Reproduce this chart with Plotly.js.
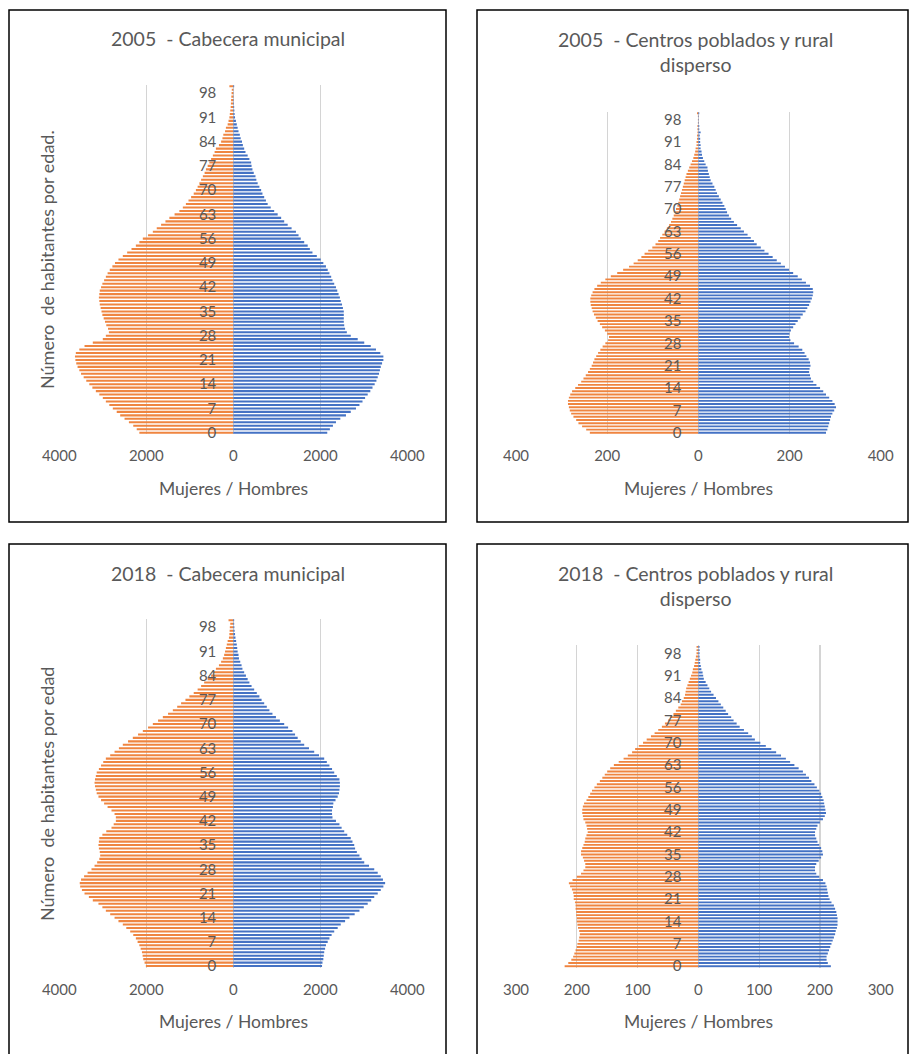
<!DOCTYPE html>
<html>
<head>
<meta charset="utf-8">
<script src="https://cdn.plot.ly/plotly-3.0.1.min.js"></script>
<style>
html,body{margin:0;padding:0;background:#fff;}
#chart{width:909px;height:1054px;}
</style>
</head>
<body>
<div id="chart"></div>
<script>
// ---------- DATA ----------
const ages = Array.from({length: 101}, (_, i) => i); // 0..100 age categories
const ageTickVals = [0, 7, 14, 21, 28, 35, 42, 49, 56, 63, 70, 77, 84, 91, 98];

const titles = [
  "2005\u00A0 - Cabecera municipal",
  "2005\u00A0 - Centros poblados y rural<br>disperso",
  "2018\u00A0 - Cabecera municipal",
  "2018\u00A0 - Centros poblados y rural<br>disperso"
];
const xAxisTitle = "Mujeres / Hombres";
const yTitle2005 = "Número\u00A0 de habitantes por edad.";
const yTitle2018 = "Número\u00A0 de habitantes por edad";

// 2005 - Cabecera municipal
const women2005Cab = [2160,2220,2300,2400,2500,2600,2680,2770,2850,2930,
  3000,3080,3160,3240,3310,3380,3440,3500,3540,3580,
  3610,3630,3640,3620,3540,3420,3230,3000,2930,2860,
  2880,2920,2950,2980,3010,3030,3050,3070,3080,3090,
  3080,3070,3040,3010,2970,2930,2890,2840,2780,2720,
  2640,2540,2440,2340,2240,2160,2080,1960,1850,1760,
  1660,1560,1470,1350,1240,1160,1090,1030,970,910,
  860,820,780,740,700,660,630,590,550,510,
  470,430,400,330,280,250,230,190,170,130,
  110,90,80,70,60,55,50,45,40,35,90];
const men2005Cab = [2160,2220,2290,2360,2460,2590,2700,2820,2900,2970,
  3030,3090,3150,3200,3250,3290,3320,3350,3370,3390,
  3420,3450,3450,3380,3280,3160,3010,2860,2700,2610,
  2570,2550,2540,2540,2540,2540,2520,2500,2470,2450,
  2420,2390,2360,2320,2280,2250,2210,2170,2130,2070,
  2010,1920,1820,1760,1710,1630,1550,1500,1440,1340,
  1250,1170,1100,1020,940,860,790,750,710,670,
  640,600,560,530,510,470,440,420,410,370,
  330,280,250,220,200,170,150,120,100,80,
  60,40,30,25,20,15,10,8,6,5,20];

// 2005 - Centros poblados y rural disperso
const women2005Rur = [238,246,255,263,268,274,279,282,284,286,
  286,284,281,277,270,264,257,252,247,242,
  238,234,231,228,224,220,215,210,204,198,
  196,200,205,211,216,221,225,229,232,234,
  236,237,237,235,232,228,222,214,204,192,
  178,165,152,142,133,125,118,110,101,94,
  88,84,79,74,69,64,60,57,54,51,
  49,46,44,42,40,38,36,34,32,30,
  28,26,23,20,17,14,11,9,7,6,
  4,4,3,3,2,2,2,1,1,1,3];
const men2005Rur = [280,283,285,287,289,291,294,298,302,299,
  294,287,280,274,267,259,252,247,245,243,
  244,246,245,242,237,233,228,220,210,202,
  199,200,203,208,213,218,224,229,235,239,
  243,246,249,251,252,251,245,236,227,218,
  208,199,190,181,172,163,154,145,137,128,
  122,115,108,100,93,85,78,72,67,63,
  60,57,53,49,45,41,38,35,31,27,
  25,23,21,20,16,13,10,8,7,5,
  5,4,4,3,5,2,2,1,1,1,2];

// 2018 - Cabecera municipal
const women2018Cab = [2010,2040,2070,2085,2100,2130,2160,2200,2240,2300,
  2370,2460,2540,2640,2730,2830,2930,3010,3100,3230,
  3320,3420,3480,3520,3530,3500,3430,3350,3260,3190,
  3130,3080,3060,3070,3090,3100,3090,3080,3010,2920,
  2800,2750,2700,2700,2730,2800,2890,2970,3040,3100,
  3140,3160,3180,3190,3180,3160,3140,3090,3040,2990,
  2930,2830,2730,2630,2540,2420,2310,2190,2080,1960,
  1850,1730,1620,1500,1390,1290,1200,1100,1010,910,
  820,740,670,590,510,450,400,330,280,240,
  210,190,170,150,130,100,90,85,80,70,110];
const men2018Cab = [2040,2050,2070,2080,2090,2110,2130,2170,2210,2260,
  2320,2400,2470,2570,2670,2790,2900,3000,3090,3170,
  3240,3320,3390,3450,3490,3440,3390,3320,3240,3120,
  3010,2950,2900,2840,2800,2780,2740,2700,2620,2550,
  2490,2440,2360,2280,2270,2270,2290,2300,2350,2400,
  2430,2440,2450,2450,2440,2380,2320,2270,2210,2150,
  2090,1970,1860,1740,1630,1550,1480,1420,1360,1260,
  1170,1070,980,900,830,770,710,650,600,540,
  480,420,370,330,290,250,210,190,160,130,
  120,100,90,80,65,50,40,30,25,20,20];

// 2018 - Centros poblados y rural disperso
const women2018Rur = [220,214,209,206,204,202,200,199,197,196,
  195,196,198,199,200,200,201,201,202,202,
  203,205,205,206,208,211,213,207,200,193,
  189,186,186,188,190,193,193,191,189,187,
  186,184,182,183,184,186,189,190,191,191,
  190,188,184,181,178,175,171,167,162,158,
  154,150,145,139,131,123,116,109,104,98,
  91,85,78,72,66,60,55,50,46,41,
  37,33,29,27,24,22,21,20,18,16,
  14,12,10,9,7,6,5,4,3,3,3];
const men2018Rur = [218,213,211,211,213,215,217,219,221,223,
  225,226,228,229,229,229,228,227,225,223,
  219,216,214,213,212,211,209,205,199,194,
  192,192,194,198,202,205,204,202,199,196,
  194,192,192,194,196,200,205,208,210,209,
  208,207,206,204,202,199,195,191,186,182,
  177,172,165,158,151,144,136,128,120,111,
  102,93,88,82,75,68,63,58,54,49,
  45,41,37,33,29,25,21,18,15,12,
  9,8,7,5,4,3,3,2,2,2,2];

// x-axis ticks per panel
const xTicks2005Cab = [-4000, -2000, 0, 2000, 4000];
const xTicks2005Rur = [-400, -200, 0, 200, 400];
const xTicks2018Cab = [-4000, -2000, 0, 2000, 4000];
const xTicks2018Rur = [-300, -200, -100, 0, 100, 200, 300];

// ---------- LAYOUT HELPERS ----------
const W = 909, H = 1054;
const px = v => v / W;
const py = v => 1 - v / H;

const ORANGE = '#EF8540';
const BLUE = '#4472C4';
const GRAY = '#595959';
const FONT = 'Lato, "Open Sans", sans-serif';

const panels = [
  {w: women2005Cab, m: men2005Cab, ticks: xTicks2005Cab, x0: 59.3, x1: 407.3, yTop: 84.5, yBot: 434.4},
  {w: women2005Rur, m: men2005Rur, ticks: xTicks2005Rur, x0: 516, x1: 880.7, yTop: 111.6, yBot: 434.4},
  {w: women2018Cab, m: men2018Cab, ticks: xTicks2018Cab, x0: 59.3, x1: 407.3, yTop: 618.6, yBot: 967.8},
  {w: women2018Rur, m: men2018Rur, ticks: xTicks2018Rur, x0: 516, x1: 880.7, yTop: 645.3, yBot: 967.8}
];

const data = [];
const layout = {
  width: W, height: H,
  margin: {l: 0, r: 0, t: 0, b: 0},
  paper_bgcolor: '#fff', plot_bgcolor: 'rgba(0,0,0,0)',
  showlegend: false,
  barmode: 'overlay',
  bargap: 0.4,
  font: {family: FONT, color: GRAY},
  annotations: [],
  shapes: []
};

panels.forEach((p, i) => {
  const n = i + 1;
  const xa = 'x' + (n === 1 ? '' : n);
  const ya = 'y' + (n === 1 ? '' : n);
  data.push({
    type: 'bar', orientation: 'h', name: 'Mujeres',
    y: ages, x: p.w.map(v => -v), xaxis: xa, yaxis: ya,
    marker: {color: ORANGE, line: {width: 0}},
    customdata: p.w, hovertemplate: 'Edad %{y}: %{customdata}<extra>Mujeres</extra>'
  });
  data.push({
    type: 'bar', orientation: 'h', name: 'Hombres',
    y: ages, x: p.m, xaxis: xa, yaxis: ya,
    marker: {color: BLUE, line: {width: 0}},
    hovertemplate: 'Edad %{y}: %{x}<extra>Hombres</extra>'
  });
  const lim = p.ticks[p.ticks.length - 1];
  const zeroPx = (p.x0 + p.x1) / 2;
  layout['xaxis' + (n === 1 ? '' : n)] = {
    domain: [px(p.x0), px(p.x1)],
    anchor: ya,
    range: [-lim, lim],
    tickvals: p.ticks,
    ticktext: p.ticks.map(v => String(Math.abs(v))),
    showgrid: true, gridcolor: '#D4D4D4', gridwidth: 1.2,
    zeroline: false, showline: false,
    ticks: 'outside', ticklen: 8, tickcolor: 'rgba(0,0,0,0)',
    tickfont: {size: 15, color: GRAY, family: FONT},
    fixedrange: true
  };
  layout['yaxis' + (n === 1 ? '' : n)] = {
    domain: [py(p.yBot), py(p.yTop)],
    anchor: 'free',
    position: px(zeroPx),
    range: [-0.5, 100.5],
    tickvals: ageTickVals,
    ticktext: ageTickVals.map(String),
    showgrid: false, zeroline: false, showline: false,
    ticks: 'outside', ticklen: 14, tickcolor: 'rgba(0,0,0,0)',
    tickfont: {size: 15, color: GRAY, family: FONT},
    layer: 'above traces',
    fixedrange: true
  };
  // x-axis title
  layout.annotations.push({
    text: xAxisTitle, xref: 'paper', yref: 'paper',
    x: px(zeroPx), y: py(i < 2 ? 488 : 1021),
    xanchor: 'center', yanchor: 'middle', showarrow: false,
    font: {size: 17.5, color: GRAY, family: FONT}
  });
});

// Chart titles
const titlePos = [
  {x: 228, y: 39}, {x: 695, y: 52.5}, {x: 228, y: 573}, {x: 695, y: 586}
];
titles.forEach((t, i) => {
  layout.annotations.push({
    text: t, xref: 'paper', yref: 'paper',
    x: px(titlePos[i].x), y: py(titlePos[i].y),
    xanchor: 'center', yanchor: 'middle', showarrow: false,
    font: {size: 19.5, color: GRAY, family: FONT}
  });
});

// Y titles
layout.annotations.push({
  text: yTitle2005, xref: 'paper', yref: 'paper',
  x: px(47), y: py(260), textangle: -90,
  xanchor: 'center', yanchor: 'middle', showarrow: false,
  font: {size: 18, color: GRAY, family: FONT}
});
layout.annotations.push({
  text: yTitle2018, xref: 'paper', yref: 'paper',
  x: px(47), y: py(794), textangle: -90,
  xanchor: 'center', yanchor: 'middle', showarrow: false,
  font: {size: 18, color: GRAY, family: FONT}
});

// Panel borders
const boxes = [
  [9, 10, 446, 522], [477, 10, 908, 522],
  [9, 544, 446, 1070], [477, 544, 908, 1070]
];
boxes.forEach(b => {
  layout.shapes.push({
    type: 'rect', xref: 'paper', yref: 'paper', layer: 'above',
    x0: px(b[0]), x1: px(b[2]), y0: py(b[3]), y1: py(b[1]),
    line: {color: '#000', width: 1.5}, fillcolor: 'rgba(0,0,0,0)'
  });
});

Plotly.newPlot('chart', data, layout, {displayModeBar: false, staticPlot: true});
</script>
</body>
</html>
